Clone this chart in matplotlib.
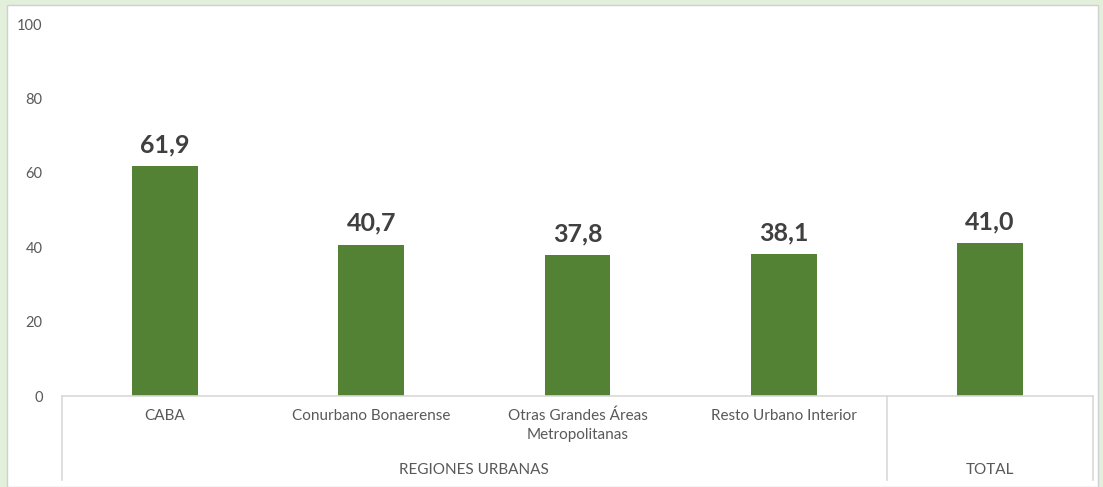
import matplotlib
matplotlib.use("Agg")
import matplotlib.pyplot as plt
from matplotlib.patches import Rectangle
from matplotlib.transforms import blended_transform_factory

categories = ["CABA", "Conurbano Bonaerense", "Otras Grandes Áreas\nMetropolitanas",
              "Resto Urbano Interior", ""]
values = [61.9, 40.7, 37.8, 38.1, 41.0]
groups = ["REGIONES URBANAS", "TOTAL"]
group_spans = [(0, 3), (4, 4)]
yticks = [0, 20, 40, 60, 80, 100]

BAR = "#548235"
LINE = "#d9d9d9"
TXT = "#595959"

plt.rcParams["font.family"] = ["Lato", "DejaVu Sans"]

W, H = 1103, 487
fig = plt.figure(figsize=(W / 100, H / 100), dpi=100)
fig.patch.set_facecolor("#e2efda")
fig.patches.append(Rectangle((7 / W, 0), 1091 / W, 482 / H, transform=fig.transFigure,
                             fc="white", ec="#d0d0d0", lw=1, zorder=-10))

ax = fig.add_axes([62 / W, (H - 396) / H, 1031 / W, 372 / H])
ax.set_zorder(5)
ax.set_facecolor("none")
x = list(range(len(values)))
bars = ax.bar(x, values, width=0.32, color=BAR, zorder=2)
for xi, v in zip(x, values):
    ax.annotate(f"{v:.1f}".replace(".", ","), (xi, v), xytext=(0, 7), textcoords="offset points",
                ha="center", va="bottom", fontsize=18, fontweight="bold", color="#404040")

ax.set_xlim(-0.5, len(values) - 0.5)
ax.set_ylim(0, 100)
ax.set_yticks(yticks)
ax.set_yticklabels([str(t) for t in yticks], fontsize=10.5, color=TXT)
ax.tick_params(axis="y", length=0, pad=14)
ax.set_xticks([])
for s in ax.spines.values():
    s.set_visible(False)

tr = blended_transform_factory(ax.transData, ax.transAxes)
bottom = -(480 - 396) / 372
ax.plot([-0.5, len(values) - 0.5], [0, 0], color=LINE, lw=1.2, transform=tr, clip_on=False)
for xv in (-0.5, 3.5, len(values) - 0.5):
    ax.plot([xv, xv], [0, bottom], color=LINE, lw=1.2, transform=tr, clip_on=False)

for xi, c in zip(x, categories):
    ax.text(xi, -0.034, c, transform=tr, ha="center", va="top", fontsize=11,
            color=TXT, linespacing=1.4)
for g, (a, b) in zip(groups, group_spans):
    ax.text((a + b) / 2, -0.2, g, transform=tr, ha="center", va="center", fontsize=11, color=TXT)

fig.savefig("out.png", dpi=100, facecolor=fig.get_facecolor())
